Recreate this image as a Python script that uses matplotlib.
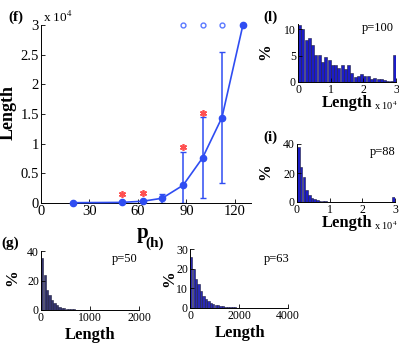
import numpy as np
import matplotlib
matplotlib.use('Agg')
import matplotlib.pyplot as plt
from matplotlib.ticker import FuncFormatter

plt.rcParams['font.family'] = 'Liberation Serif'
plt.rcParams['mathtext.fontset'] = 'stix'

# main panel (f)
p_vals = [20, 50, 63, 75, 88, 100, 112, 125]
mean_len = [50, 100, 300, 800, 3000, 7600, 14400, 30000]
err_p = [75, 88, 100, 112]
err_mean = [800, 3000, 7600, 14400]
err_lo = [0, 0, 900, 3400]
err_hi = [1600, 8600, 14500, 25400]
open_p = [88, 100, 112]
open_len = [30000, 30000, 30000]
star_p = [50, 63, 88, 100]
star_len = [1500, 1700, 9400, 15200]

# histograms (percent per bin)
h100 = [10.9, 10.0, 7.9, 8.4, 7.0, 5.2, 5.1, 3.8, 4.8, 4.2, 3.3, 3.2, 2.6, 3.2, 2.4,
        3.2, 1.8, 1.0, 1.1, 1.6, 1.2, 1.1, 0.6, 0.8, 0.6, 0.5, 0.4, 0.25, 0.2, 5.1]
h88 = [37.7, 24, 17, 8.5, 5, 2.7, 2, 1.4, 0.9, 0.7, 0.4, 0.3, 0.25, 0.2, 0.15, 0.1,
       0.1, 0.1, 0.1, 0.05, 0.05, 0.05, 0.05, 0.05, 0.05, 0.05, 0.05, 0.05, 0.05, 0.05,
       0.05, 0.05, 0.05, 0.05, 0.05, 3.4]
h50 = [35, 24, 13.5, 10, 6.8, 4.5, 3.4, 2.3, 1.6, 1.1, 0.9, 0.6, 0.5, 0.4, 0.3, 0.3,
       0.2, 0.2, 0.15, 0.1, 0.1, 0.1, 0.05, 0.05, 0.05, 0.05, 0.05, 0.05, 0.05, 0.05]
h63 = [26, 20, 14.5, 12.2, 8.8, 6.3, 4.6, 3.4, 2.7, 2.0, 1.7, 1.4, 1.2, 0.85, 0.7,
       0.5, 0.4, 0.35, 0.3, 0.25, 0.2, 0.15, 0.1, 0.1, 0.1, 0.05, 0.05, 0.05]

W, H = 399, 346
fig = plt.figure(figsize=(W / 100, H / 100), dpi=100)


def px_axes(l, r, t, b):
    return fig.add_axes([l / W, 1 - b / H, (r - l) / W, (b - t) / H])


def px_text(x, y, s, **kw):
    fig.text(x / W, 1 - y / H, s, ha=kw.pop('ha', 'center'), va=kw.pop('va', 'center'), **kw)


def style(ax, fs):
    for s in ['top', 'right']:
        ax.spines[s].set_visible(False)
    ax.tick_params(direction='in', labelsize=fs, length=3, width=0.6, pad=1.5)
    for s in ['left', 'bottom']:
        ax.spines[s].set_linewidth(0.7)


blue = '#2f4df2'

# ---- (f)
ax = px_axes(41, 251, 25, 203)
ax.plot(p_vals, mean_len, '-o', color=blue, ms=4.5, lw=1.2, clip_on=False, zorder=3)
ax.errorbar(err_p, err_mean, yerr=[np.array(err_mean) - np.array(err_lo),
                                   np.array(err_hi) - np.array(err_mean)],
            fmt='none', ecolor=blue, elinewidth=1.1, capsize=2.5, capthick=1.0)
ax.plot(open_p, open_len, 'o', mfc='none', mec='#5a78ff', ms=3.5, mew=1.0, clip_on=False)
ax.plot(star_p, star_len, marker=(6, 2, 0), color='#ff5050', ms=5, mew=1.2, ls='none')
ax.set_xlim(0, 130)
ax.set_ylim(0, 30000)
ax.set_xticks([0, 30, 60, 90, 120])
ax.set_yticks(np.arange(0, 30001, 5000))
ax.yaxis.set_major_formatter(FuncFormatter(lambda v, pos: '%g' % (v / 1e4)))
style(ax, 10.5)
px_text(16, 17, '(f)', fontsize=11, fontweight='bold')
px_text(43, 17, r'x 10$^{4}$', fontsize=9.5, ha='left')
px_text(8, 113, 'Length', fontsize=13, fontweight='bold', rotation=90)
px_text(143, 233, 'p', fontsize=15, fontweight='bold')


def hist_panel(l, r, t, b, heights, width, color, xlim, xticks, ylim, yticks,
               label, ptxt, lab_xy, p_xy, pct_xy, len_xy, scale_xy=None):
    a = px_axes(l, r, t, b)
    x = np.arange(len(heights)) * width + width / 2
    a.bar(x, heights, width=width * 0.92, color=color, edgecolor='#202040', linewidth=0.4)
    a.set_xlim(*xlim)
    a.set_ylim(*ylim)
    a.set_xticks(xticks)
    a.set_yticks(yticks)
    if scale_xy is not None:
        a.xaxis.set_major_formatter(FuncFormatter(lambda v, pos: '%g' % (v / 1e4)))
    style(a, 8.5)
    px_text(*lab_xy, label, fontsize=11, fontweight='bold')
    px_text(*p_xy, ptxt, fontsize=9)
    px_text(*pct_xy, '%', fontsize=12, fontweight='bold', rotation=90)
    px_text(*len_xy, 'Length', fontsize=12, fontweight='bold')
    if scale_xy is not None:
        px_text(*scale_xy, r'x 10$^{4}$', fontsize=7.5, ha='left')
    return a


hist_panel(298, 396, 24, 82, h100, 1000, '#1c1cc6', (0, 30000), [0, 10000, 20000, 30000],
           (0, 11), [0, 5, 10], '(l)', 'p=100', (271, 17), (378, 28), (265, 52),
           (347, 103), scale_xy=(374, 106))
hist_panel(297, 395, 144, 202, h88, 30000 / 36, '#1c1cc6', (0, 30000), [0, 10000, 20000, 30000],
           (0, 40), [0, 20, 40], '(i)', 'p=88', (270, 137), (383, 152), (265, 172),
           (347, 223), scale_xy=(374, 226))
hist_panel(41, 139, 251, 310, h50, 50, '#35356e', (0, 2000), [0, 1000, 2000],
           (0, 40), [0, 20, 40], '(g)', 'p=50', (10, 243), (125, 259), (12, 278),
           (90, 335))
hist_panel(190, 288, 249, 308, h63, 100, '#2a2ab4', (0, 4000), [0, 2000, 4000],
           (0, 30), [0, 10, 20, 30], '(h)', 'p=63', (155, 243), (277, 259), (169, 279),
           (240, 333))

fig.savefig('out.png', dpi=100)
